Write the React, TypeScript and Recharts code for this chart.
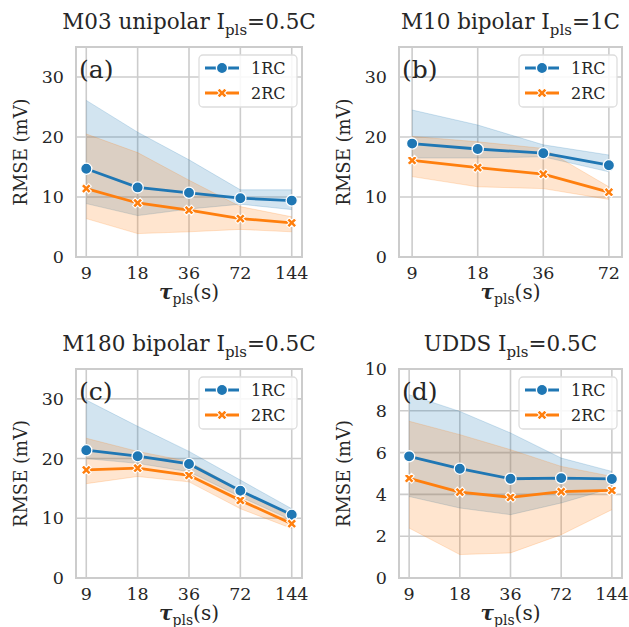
import React from 'react';
import { Area, CartesianGrid, ComposedChart, Line, XAxis, YAxis } from 'recharts';

const TAU_5 = ['9', '18', '36', '72', '144'];
const TAU_4 = ['9', '18', '36', '72'];
const Y_TICKS_30 = [0, 10, 20, 30];
const Y_TICKS_10 = [0, 2, 4, 6, 8, 10];
const SERIES = ['1RC', '2RC'];
const COLORS = ['#1f77b4', '#ff7f0e'];

// (a) M03 unipolar
const A_MEAN_1RC = [14.7, 11.6, 10.7, 9.8, 9.4];
const A_LO_1RC = [8.9, 6.9, 8.0, 8.8, 7.9];
const A_HI_1RC = [26.1, 20.8, 16.2, 11.2, 11.2];
const A_MEAN_2RC = [11.4, 9.0, 7.8, 6.4, 5.7];
const A_LO_2RC = [6.4, 3.9, 4.2, 4.6, 4.2];
const A_HI_2RC = [20.5, 17.4, 12.8, 8.4, 6.7];

// (b) M10 bipolar
const B_MEAN_1RC = [18.9, 18.0, 17.3, 15.3];
const B_LO_1RC = [16.5, 16.5, 16.7, 14.2];
const B_HI_1RC = [24.5, 22.0, 18.7, 17.0];
const B_MEAN_2RC = [16.1, 14.9, 13.8, 10.8];
const B_LO_2RC = [13.4, 11.7, 11.4, 9.6];
const B_HI_2RC = [20.1, 19.2, 18.1, 11.7];

// (c) M180 bipolar
const C_MEAN_1RC = [21.4, 20.4, 19.1, 14.6, 10.6];
const C_LO_1RC = [20.0, 19.2, 17.8, 13.6, 9.7];
const C_HI_1RC = [29.8, 25.4, 21.2, 16.4, 11.6];
const C_MEAN_2RC = [18.1, 18.4, 17.2, 13.0, 9.1];
const C_LO_2RC = [15.8, 17.0, 16.1, 11.6, 8.3];
const C_HI_2RC = [23.4, 21.2, 19.5, 14.7, 10.2];

// (d) UDDS
const D_MEAN_1RC = [5.82, 5.23, 4.75, 4.78, 4.74];
const D_LO_1RC = [3.9, 3.35, 3.03, 3.59, 4.3];
const D_HI_1RC = [8.77, 7.97, 6.94, 5.74, 5.1];
const D_MEAN_2RC = [4.77, 4.11, 3.86, 4.13, 4.19];
const D_LO_2RC = [2.39, 1.12, 1.2, 2.07, 3.27];
const D_HI_2RC = [7.5, 6.86, 6.14, 5.34, 4.86];

const FONT = '"DejaVu Serif", serif';
const TEXT = '#262626';
const GRID = '#cccccc';

const PANELS = [
  {
    tag: '(a)', title: 'M03 unipolar I', current: '0.5C', ticks: TAU_5, yMax: 35, yTicks: Y_TICKS_30,
    rect: { x: 76, y: 47, w: 226, h: 210 },
    m1: A_MEAN_1RC, lo1: A_LO_1RC, hi1: A_HI_1RC, m2: A_MEAN_2RC, lo2: A_LO_2RC, hi2: A_HI_2RC,
  },
  {
    tag: '(b)', title: 'M10 bipolar I', current: '1C', ticks: TAU_4, yMax: 35, yTicks: Y_TICKS_30,
    rect: { x: 399, y: 47, w: 223, h: 210 },
    m1: B_MEAN_1RC, lo1: B_LO_1RC, hi1: B_HI_1RC, m2: B_MEAN_2RC, lo2: B_LO_2RC, hi2: B_HI_2RC,
  },
  {
    tag: '(c)', title: 'M180 bipolar I', current: '0.5C', ticks: TAU_5, yMax: 35, yTicks: Y_TICKS_30,
    rect: { x: 76, y: 369, w: 226, h: 209 },
    m1: C_MEAN_1RC, lo1: C_LO_1RC, hi1: C_HI_1RC, m2: C_MEAN_2RC, lo2: C_LO_2RC, hi2: C_HI_2RC,
  },
  {
    tag: '(d)', title: 'UDDS I', current: '0.5C', ticks: TAU_5, yMax: 10, yTicks: Y_TICKS_10,
    rect: { x: 399, y: 369, w: 223, h: 209 },
    m1: D_MEAN_1RC, lo1: D_LO_1RC, hi1: D_HI_1RC, m2: D_MEAN_2RC, lo2: D_LO_2RC, hi2: D_HI_2RC,
  },
];

const plusPath = (w: number, l: number) =>
  `M${-w},${-l}H${w}V${-w}H${l}V${w}H${w}V${l}H${-w}V${w}H${-l}V${-w}H${-w}Z`;

function CircleMark({ cx, cy, color }: any) {
  return <circle cx={cx} cy={cy} r={5.6} fill={color} stroke="#fff" strokeWidth={1.3} />;
}

function XMark({ cx, cy, color }: any) {
  return (
    <path
      transform={`translate(${cx},${cy}) rotate(45)`}
      d={plusPath(1.8, 5.3)}
      fill={color}
      stroke="#fff"
      strokeWidth={1.1}
    />
  );
}

const tickStyle = { fontFamily: FONT, fontSize: 17.5, fill: TEXT };

function Panel({ p }: any) {
  const YW = 60;
  const MT = 10;
  const MR = 12;
  const XH = 34;
  const { x, y, w, h } = p.rect;
  const n = p.ticks.length;
  const data = p.ticks.map((_: string, i: number) => ({
    x: i,
    m1: p.m1[i],
    m2: p.m2[i],
    b1: [p.lo1[i], p.hi1[i]],
    b2: [p.lo2[i], p.hi2[i]],
  }));
  return (
    <div style={{ position: 'absolute', left: x - YW, top: y - MT }}>
      <ComposedChart
        width={w + YW + MR}
        height={h + MT + XH}
        data={data}
        margin={{ top: MT, right: MR, bottom: 0, left: 0 }}
      >
        <CartesianGrid stroke={GRID} strokeWidth={1.6} />
        <XAxis
          type="number"
          dataKey="x"
          domain={[-0.2, n - 0.8]}
          ticks={p.ticks.map((_: string, i: number) => i)}
          tickFormatter={(v: number) => p.ticks[v]}
          interval={0}
          height={XH}
          axisLine={false}
          tickLine={false}
          tickMargin={4}
          tick={tickStyle}
        />
        <YAxis
          type="number"
          domain={[0, p.yMax]}
          ticks={p.yTicks}
          interval={0}
          width={YW}
          axisLine={false}
          tickLine={false}
          tickMargin={6}
          tick={tickStyle}
        />
        <Area
          type="linear"
          dataKey="b1"
          fill={COLORS[0]}
          fillOpacity={0.2}
          stroke={COLORS[0]}
          strokeOpacity={0.2}
          strokeWidth={1}
          isAnimationActive={false}
          activeDot={false}
        />
        <Area
          type="linear"
          dataKey="b2"
          fill={COLORS[1]}
          fillOpacity={0.2}
          stroke={COLORS[1]}
          strokeOpacity={0.2}
          strokeWidth={1}
          isAnimationActive={false}
          activeDot={false}
        />
        <Line
          type="linear"
          dataKey="m1"
          stroke={COLORS[0]}
          strokeWidth={2.8}
          isAnimationActive={false}
          activeDot={false}
          dot={(d: any) => <CircleMark key={`c${d.index}`} cx={d.cx} cy={d.cy} color={COLORS[0]} />}
        />
        <Line
          type="linear"
          dataKey="m2"
          stroke={COLORS[1]}
          strokeWidth={2.8}
          isAnimationActive={false}
          activeDot={false}
          dot={(d: any) => <XMark key={`x${d.index}`} cx={d.cx} cy={d.cy} color={COLORS[1]} />}
        />
      </ComposedChart>
    </div>
  );
}

function Decorations({ p }: any) {
  const { x, y, w, h } = p.rect;
  const cx = x + w / 2;
  const lw = 98;
  const lx = x + w - lw - 5;
  const ly = y + 8;
  return (
    <g fontFamily={FONT} fill={TEXT}>
      <rect x={x} y={y} width={w} height={h} fill="none" stroke={GRID} strokeWidth={2} />
      <text x={cx} y={y - 18} textAnchor="middle" fontSize={21.5}>
        {p.title}
        <tspan fontSize={15} dy={5.5}>pls</tspan>
        <tspan dy={-5.5}>={p.current}</tspan>
      </text>
      <text x={x + 3} y={y + 31} fontSize={25}>{p.tag}</text>
      <text
        transform={`translate(${x - 56},${y + h / 2}) rotate(-90)`}
        textAnchor="middle"
        dominantBaseline="central"
        fontSize={18}
      >
        RMSE (mV)
      </text>
      <text x={cx} y={y + h + 42} textAnchor="middle" fontSize={20}>
        <tspan fontStyle="italic" fontWeight="bold">τ</tspan>
        <tspan fontSize={14} dy={5}>pls</tspan>
        <tspan dy={-5}>(s)</tspan>
      </text>
      <rect x={lx} y={ly} width={lw} height={52} rx={4} fill="#ffffff" fillOpacity={0.85} stroke="#dddddd" strokeWidth={1.3} />
      {SERIES.map((s, i) => {
        const ry = ly + 13 + i * 25;
        const hx = lx + 23;
        return (
          <g key={s}>
            <line x1={lx + 6} x2={lx + 40} y1={ry} y2={ry} stroke={COLORS[i]} strokeWidth={2.8} />
            {i === 0 ? <CircleMark cx={hx} cy={ry} color={COLORS[i]} /> : <XMark cx={hx} cy={ry} color={COLORS[i]} />}
            <text x={lx + 52} y={ry + 5.5} fontSize={16}>{s}</text>
          </g>
        );
      })}
    </g>
  );
}

export default function App() {
  return (
    <div style={{ position: 'absolute', left: 0, top: 0, width: 629, height: 627, background: '#fff' }}>
      {PANELS.map((p) => (
        <Panel key={p.tag} p={p} />
      ))}
      <svg
        width={629}
        height={627}
        style={{ position: 'absolute', left: 0, top: 0, pointerEvents: 'none' }}
      >
        {PANELS.map((p) => (
          <Decorations key={p.tag} p={p} />
        ))}
      </svg>
    </div>
  );
}
